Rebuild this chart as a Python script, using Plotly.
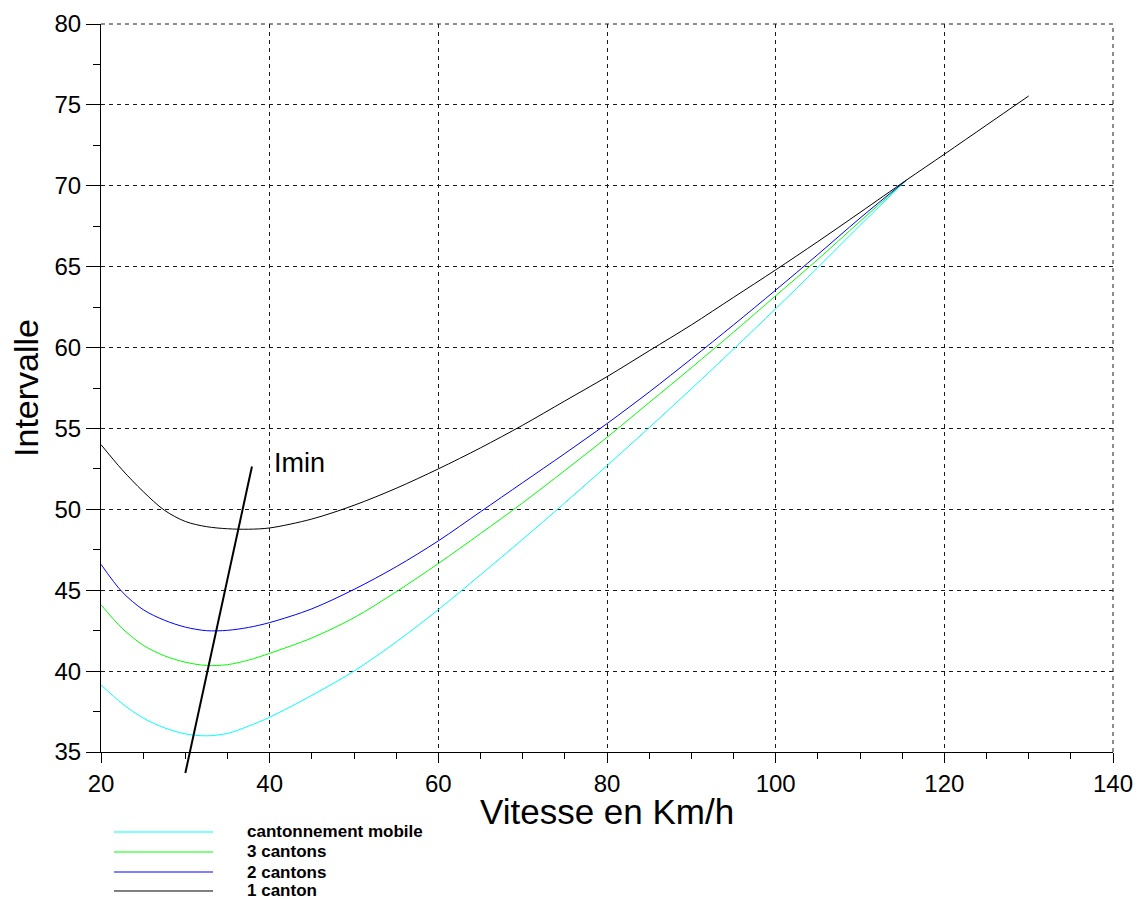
import plotly.graph_objects as go

# Speed samples (km/h) and minimum headway readings for each signalling scheme
speed = [20, 22.5, 25, 27.5, 30, 32.5, 35, 37.5, 40, 45, 50, 55, 60, 65, 70,
         75, 80, 85, 90, 95, 100, 105, 110, 115.5]
speed_one = speed + [120, 125, 130]

mobile = [39.15, 38.0, 37.1, 36.5, 36.12, 36.0, 36.15, 36.6, 37.15, 38.5, 40.0,
          41.8, 43.8, 45.95, 48.15, 50.4, 52.7, 55.05, 57.45, 59.9, 62.4,
          64.95, 67.55, 70.35]
three_blocks = [44.1, 42.65, 41.6, 40.95, 40.55, 40.35, 40.4, 40.68, 41.1, 42.05,
                43.3, 44.9, 46.65, 48.5, 50.4, 52.4, 54.45, 56.6, 58.75, 60.95,
                63.2, 65.45, 67.8, 70.35]
two_blocks = [46.6, 44.9, 43.8, 43.15, 42.72, 42.5, 42.52, 42.7, 43.0, 43.85,
              45.05, 46.45, 48.05, 49.85, 51.65, 53.45, 55.3, 57.25, 59.3, 61.4,
              63.55, 65.75, 68.0, 70.35]
one_block = [54.0, 52.45, 51.1, 49.95, 49.25, 48.93, 48.8, 48.77, 48.85, 49.4,
             50.25, 51.3, 52.5, 53.8, 55.2, 56.7, 58.2, 59.8, 61.4, 63.1, 64.8,
             66.55, 68.35, 70.35, 71.95, 73.75, 75.55]

# Line through the minima of the curves
imin_speed = [30.0, 37.9]
imin_interval = [33.7, 52.65]
imin_label = "Imin"
imin_label_pos = (40.3, 52.85)

series_names = ["cantonnement mobile", "3 cantons", "2 cantons", "1 canton"]
series_colors = ["#00FFFF", "#00FF00", "#0000FF", "#000000"]

x_range = [20, 140]
y_range = [35, 80]
x_ticks = [20, 40, 60, 80, 100, 120, 140]
y_ticks = [35, 40, 45, 50, 55, 60, 65, 70, 75, 80]

FONT = "Liberation Sans, Arial, sans-serif"
GRID = dict(color="#1a1a1a", width=1, dash="4px,4px")

fig = go.Figure()
series = [(speed, mobile), (speed, three_blocks), (speed, two_blocks),
          (speed_one, one_block)]
for (xs, ys), name, color in zip(series, series_names, series_colors):
    fig.add_trace(go.Scatter(
        x=xs, y=ys, mode="lines", name=name,
        line=dict(color=color, width=1, shape="spline", smoothing=0.9),
        showlegend=False, hoverinfo="skip",
    ))


def to_paper_x(v):
    return (v - x_range[0]) / (x_range[1] - x_range[0])


def to_paper_y(v):
    return (v - y_range[0]) / (y_range[1] - y_range[0])


# Dashed frame on the top and right edges of the plotting area
fig.add_shape(type="line", xref="paper", yref="paper", x0=0, x1=1, y0=1, y1=1,
              line=GRID, layer="below")
fig.add_shape(type="line", xref="paper", yref="paper", x0=1, x1=1, y0=0, y1=1,
              line=GRID, layer="below")

# The Imin line runs below the x axis, so it is drawn in paper space
fig.add_shape(
    type="line", xref="paper", yref="paper",
    x0=to_paper_x(imin_speed[0]), y0=to_paper_y(imin_interval[0]),
    x1=to_paper_x(imin_speed[1]), y1=to_paper_y(imin_interval[1]),
    line=dict(color="black", width=2),
)
fig.add_annotation(
    x=imin_label_pos[0], y=imin_label_pos[1], xref="x", yref="y",
    text=imin_label, showarrow=False, xanchor="left", yanchor="middle",
    font=dict(family=FONT, size=27, color="black"),
)

# X axis title
fig.add_annotation(
    xref="paper", yref="paper", x=0.5, y=-0.082,
    text="Vitesse en Km/h", showarrow=False, xanchor="center", yanchor="middle",
    font=dict(family=FONT, size=35, color="black"),
)

# Legend block under the chart: long line samples with bold labels
legend_rows_y = [-0.10989, -0.13736, -0.16484, -0.19093]
for yy, name, color in zip(legend_rows_y, series_names, series_colors):
    fig.add_shape(type="line", xref="paper", yref="paper",
                  x0=0.0128, x1=0.1107, y0=yy, y1=yy,
                  line=dict(color=color, width=1))
    fig.add_annotation(xref="paper", yref="paper", x=0.1423, y=yy,
                       text=f"<b>{name}</b>", showarrow=False,
                       xanchor="left", yanchor="middle",
                       font=dict(family=FONT, size=17, color="black"))

axis_common = dict(
    showline=True, linecolor="black", linewidth=1,
    ticks="outside", tickcolor="black", tickwidth=1,
    showgrid=True, gridcolor=GRID["color"], gridwidth=1, griddash=GRID["dash"],
    zeroline=False, tickfont=dict(family=FONT, size=24, color="black"),
)

fig.update_xaxes(
    range=x_range, tickvals=x_ticks, ticklen=10,
    minor=dict(dtick=5, tick0=20, ticks="outside", ticklen=6,
               tickcolor="black", showgrid=False),
    **axis_common,
)
fig.update_yaxes(
    range=y_range, tickvals=y_ticks, ticklen=14,
    minor=dict(dtick=2.5, tick0=35, ticks="outside", ticklen=7,
               tickcolor="black", showgrid=False),
    title=dict(text="Intervalle", standoff=5,
               font=dict(family=FONT, size=34, color="black")),
    **axis_common,
)

fig.update_layout(
    width=1137, height=901,
    margin=dict(l=101, r=24, t=24, b=149, autoexpand=False),
    paper_bgcolor="white", plot_bgcolor="white",
    showlegend=False,
    font=dict(family=FONT, color="black"),
)

fig.write_html("out.html")
